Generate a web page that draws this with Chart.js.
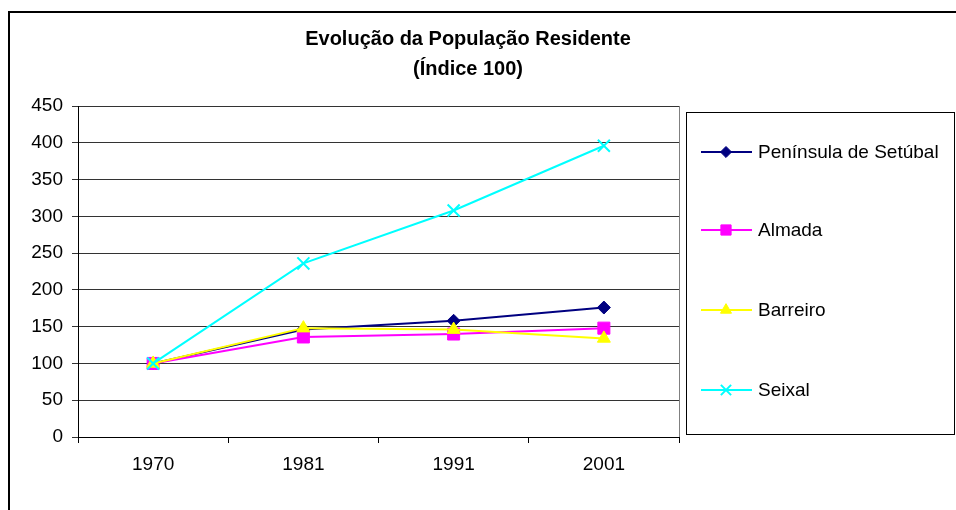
<!DOCTYPE html>
<html>
<head>
<meta charset="utf-8">
<title>Evolução da População Residente</title>
<script src="https://cdn.jsdelivr.net/npm/chart.js@4/dist/chart.umd.min.js"></script>
<style>
    body { margin: 0; background: #fff; }
    #wrap { width: 956px; height: 510px; position: relative; }
</style>
</head>
<body>
<div id="wrap"><canvas id="popChart" width="956" height="510"></canvas></div>
<script>
// data (índice 100 = 1970)
const anos = ['1970', '1981', '1991', '2001'];
const peninsula = [100, 146, 158, 176];
const almada = [100, 136, 140, 148];
const barreiro = [100, 148, 146, 134];
const seixal = [100, 236, 308, 396];
const yTicks = [0, 50, 100, 150, 200, 250, 300, 350, 400, 450];

const FONT = 'Liberation Sans, Arial, sans-serif';

// title, outer frame, plot frame and legend box
const decor = {
    id: 'decor',
    afterDraw(chart) {
        const ctx = chart.ctx;
        const area = chart.chartArea;
        ctx.save();

        // outer frame (cut by the window on right/bottom)
        ctx.strokeStyle = '#000';
        ctx.lineWidth = 2;
        ctx.beginPath();
        ctx.moveTo(9, 512);
        ctx.lineTo(9, 12);
        ctx.lineTo(958, 12);
        ctx.stroke();

        // right edge of plot area
        ctx.strokeStyle = '#808080';
        ctx.lineWidth = 1;
        ctx.beginPath();
        ctx.moveTo(area.right + 0.5, area.top);
        ctx.lineTo(area.right + 0.5, area.bottom);
        ctx.stroke();

        // title
        ctx.fillStyle = '#000';
        ctx.font = 'bold 20px ' + FONT;
        ctx.textAlign = 'center';
        ctx.textBaseline = 'middle';
        ctx.fillText('Evolução da População Residente', 468, 39);
        ctx.fillText('(Índice 100)', 468, 69);

        // legend
        ctx.strokeStyle = '#000';
        ctx.lineWidth = 1;
        ctx.strokeRect(686.5, 112.5, 268, 322);
        const rows = [152, 230, 310, 390];
        ctx.font = '19px ' + FONT;
        ctx.textAlign = 'left';
        chart.data.datasets.forEach((ds, i) => {
            const y = rows[i];
            ctx.strokeStyle = ds.borderColor;
            ctx.lineWidth = 2;
            ctx.beginPath();
            ctx.moveTo(701, y);
            ctx.lineTo(752, y);
            ctx.stroke();
            ctx.fillStyle = ds.pointBackgroundColor;
            ctx.strokeStyle = ds.pointBorderColor;
            ctx.lineWidth = ds.pointBorderWidth;
            Chart.helpers.drawPoint(ctx, {
                pointStyle: ds.pointStyle,
                radius: ds.pointRadius * 0.85,
                borderWidth: ds.pointBorderWidth,
                rotation: 0
            }, 726, y);
            ctx.fillStyle = '#000';
            ctx.fillText(ds.label, 758, y + 1);
        });
        ctx.restore();
    }
};

function serie(label, data, color, style, radius, bw, order) {
    return {
        label: label,
        data: data,
        borderColor: color,
        backgroundColor: color,
        borderWidth: 2,
        pointStyle: style,
        pointRadius: radius,
        pointBackgroundColor: color,
        pointBorderColor: color,
        pointBorderWidth: bw,
        tension: 0,
        fill: false,
        order: order
    };
}

new Chart(document.getElementById('popChart'), {
    type: 'line',
    data: {
        labels: anos,
        datasets: [
            serie('Península de Setúbal', peninsula, '#000080', 'rectRot', 6.5, 1, 4),
            serie('Almada', almada, '#ff00ff', 'rect', 8.5, 1, 3),
            serie('Barreiro', barreiro, '#ffff00', 'triangle', 7.5, 1, 2),
            serie('Seixal', seixal, '#00ffff', 'crossRot', 8.5, 2, 1)
        ]
    },
    plugins: [decor],
    options: {
        responsive: false,
        animation: false,
        events: [],
        layout: {
            padding: { top: 106, right: 277, left: 0, bottom: 0 }
        },
        plugins: {
            legend: { display: false },
            title: { display: false },
            tooltip: { enabled: false }
        },
        scales: {
            x: {
                offset: true,
                grid: {
                    offset: true,
                    drawOnChartArea: false,
                    drawTicks: true,
                    tickLength: 6,
                    color: '#000'
                },
                border: { color: '#000', width: 1 },
                ticks: {
                    color: '#000',
                    font: { family: FONT, size: 19 },
                    padding: 10,
                    maxRotation: 0
                },
                afterFit(scale) { scale.height = 73; }
            },
            y: {
                min: 0,
                max: 450,
                afterBuildTicks(scale) {
                    scale.ticks = yTicks.map(v => ({ value: v }));
                },
                grid: {
                    color: '#333',
                    tickLength: 6,
                    drawTicks: true
                },
                border: { color: '#000', width: 1 },
                ticks: {
                    color: '#000',
                    font: { family: FONT, size: 19 },
                    padding: 9
                },
                afterFit(scale) { scale.width = 78; }
            }
        }
    }
});
</script>
</body>
</html>
